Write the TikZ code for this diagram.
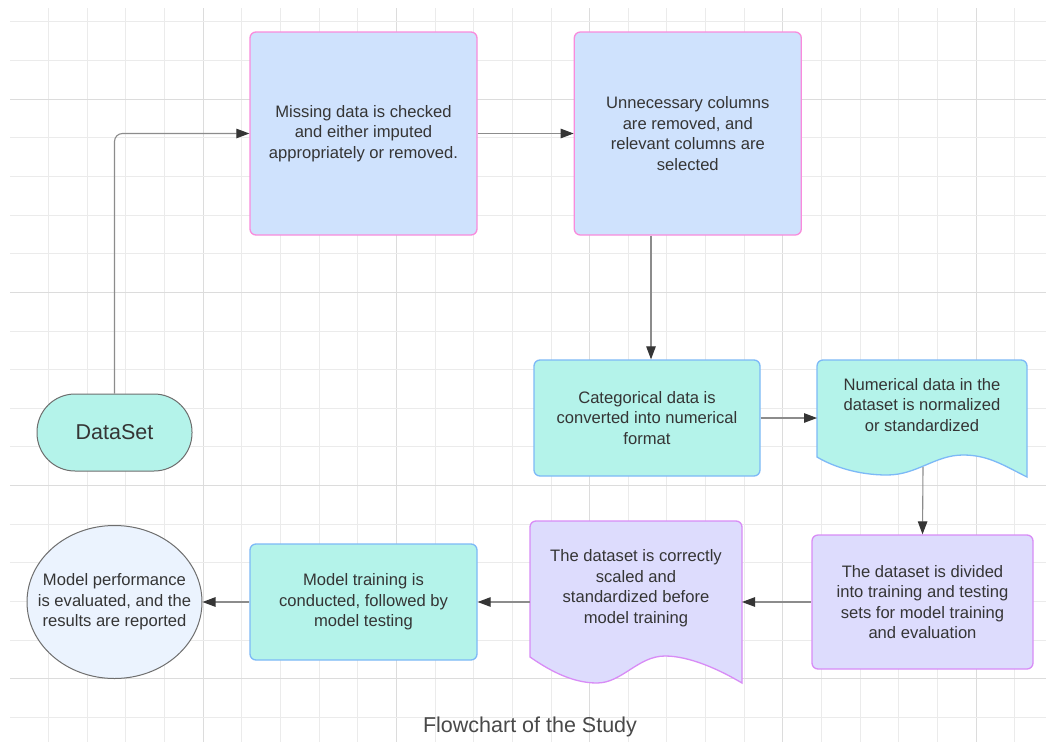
\documentclass[tikz,border=0pt]{standalone}
\usepackage{fontspec}
\setmainfont{Liberation Sans}
\usepackage{tikz}
\usetikzlibrary{positioning}
\usetikzlibrary{shapes.geometric}
\usetikzlibrary{arrows.meta}
\usepackage{xcolor}
\definecolor{boxblue}{HTML}{CFE2FD}
\definecolor{edgepink}{HTML}{F98BDC}
\definecolor{boxteal}{HTML}{B4F3EA}
\definecolor{edgeblue}{HTML}{7DB9F7}
\definecolor{boxlilac}{HTML}{DDDCFD}
\definecolor{edgeviolet}{HTML}{D88CF6}
\definecolor{boxpale}{HTML}{EBF3FE}
\definecolor{edgegray}{HTML}{6E6E6E}
\definecolor{ink}{HTML}{353535}
\definecolor{gridminor}{HTML}{EBEBEB}
\definecolor{gridmajor}{HTML}{DCDCDC}

\begin{document}
\begin{tikzpicture}[x=1pt,y=-1pt,font=\fontsize{16.6}{20.5}\selectfont,text=ink,
procbox/.style={draw, rounded corners=6pt, line width=1.3pt, align=center, inner sep=0pt},
pinkbox/.style={procbox, fill=boxblue, draw=edgepink, minimum width=227pt, minimum height=203pt},
tealbox/.style={procbox, fill=boxteal, draw=edgeblue, minimum width=226pt, minimum height=116pt},
lilacbox/.style={procbox, fill=boxlilac, draw=edgeviolet, minimum width=221pt, minimum height=134pt},
docshape/.style={line width=1.3pt},
flow/.style={draw=gray!90, line width=1.1pt, -{Triangle[length=13pt,width=9.5pt,color=ink]}}]
\fill[white] (0,0) rectangle (1046,742);
\useasboundingbox (0,0) rectangle (1046,742);
% grid
\foreach \i in {1,...,26} {
  \pgfmathtruncatemacro{\m}{mod(\i,5)}
  \ifnum\m=0 \def\gc{gridmajor}\else \def\gc{gridminor}\fi
  \draw[\gc, line width=1pt] ({9.9+38.65*\i},8) -- ({9.9+38.65*\i},742);
}
\foreach \j in {0,...,18} {
  \pgfmathtruncatemacro{\m}{mod(\j+3,5)}
  \ifnum\m=0 \def\gc{gridmajor}\else \def\gc{gridminor}\fi
  \draw[\gc, line width=1pt] (10,{21.8+38.65*\j}) -- (1046,{21.8+38.65*\j});
}

\node[pinkbox] (missing) at (363.5,133.5) {Missing data is checked\\and either imputed\\appropriately or removed.};
\node[pinkbox, right=96pt of missing] (columns) {Unnecessary columns\\are removed, and\\relevant columns are\\selected};
\node[procbox, fill=boxteal, draw=edgegray, line width=1pt, rounded corners=38pt, minimum width=155pt, minimum height=77pt, font=\fontsize{21.5}{25}\selectfont] (data) at (114.5,432.5) {DataSet};
\node[tealbox] (categorical) at (647,418) {Categorical data is\\converted into numerical\\format};

% document shapes
\draw[docshape, fill=boxteal, draw=edgeblue] (817,457) [rounded corners=6pt] -- (817,360) -- (1027,360) [sharp corners] -- (1027,477)
  .. controls (1003,465) and (988,455) .. (963,455)
  .. controls (935,455) and (917,475) .. (887,475)
  .. controls (857,475) and (832,466) .. (817,457) -- cycle;
\node[align=center] (numerical) at (922,405) {Numerical data in the\\dataset is normalized\\or standardized};
\coordinate (num-w) at (817,418);
\coordinate (num-s) at (923,467);

\node[lilacbox] (divided) at (922.5,602) {The dataset is divided\\into training and testing\\sets for model training\\and evaluation};

\draw[docshape, fill=boxlilac, draw=edgeviolet] (530,657) [rounded corners=6pt] -- (530,521) -- (742,521) [sharp corners] -- (742,683)
  .. controls (720,670) and (690,656) .. (665,656)
  .. controls (638,656) and (622,683) .. (597,683)
  .. controls (570,683) and (546,668) .. (530,657) -- cycle;
\node[align=center] (scaled) at (636,588) {The dataset is correctly\\scaled and\\standardized before\\model training};
\coordinate (scaled-e) at (742,602);
\coordinate (scaled-w) at (530,602);

\node[tealbox, minimum width=227pt] (training) at (363.5,602) {Model training is\\conducted, followed by\\model testing};
\node[ellipse, draw=edgegray, line width=1pt, fill=boxpale, inner sep=0pt, minimum width=175pt, minimum height=153pt] (performance) at (114.5,602) {};
\node[align=center] (performance-text) at (performance.center) {Model performance\\is evaluated, and the\\results are reported};

\node[font=\fontsize{21.5}{25}\selectfont, text=ink!90] (title) at (530,727) {Flowchart of the Study};

\draw[flow, rounded corners=8pt] (data.north) |- (missing.west);
\draw[flow] (missing.east) -- (columns.west);
\draw[flow] ([xshift=4pt]columns.south -| categorical.north) -- ([xshift=4pt]categorical.north);
\draw[flow] (categorical.east) -- (num-w);
\draw[flow] (num-s) -- (divided.north);
\draw[flow] (divided.west) -- (scaled-e);
\draw[flow] (scaled-w) -- (training.east);
\draw[flow] (training.west) -- (performance.east);
\end{tikzpicture}
\end{document}
